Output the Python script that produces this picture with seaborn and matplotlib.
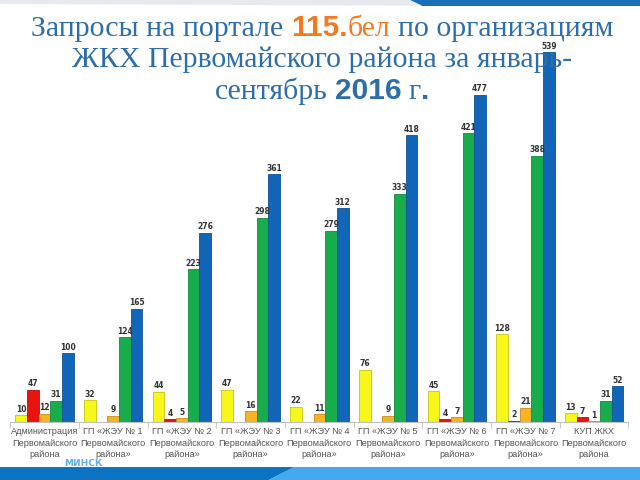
import numpy as np
import pandas as pd
import seaborn as sns
import matplotlib.pyplot as plt
from matplotlib.patches import Polygon
from matplotlib.ticker import FixedLocator
from matplotlib.colors import to_rgb

# organisations (x categories)
orgs = ['Администрация\nПервомайского\nрайона',
        'ГП «ЖЭУ № 1\nПервомайского\nрайона»',
        'ГП «ЖЭУ № 2\nПервомайского\nрайона»',
        'ГП «ЖЭУ № 3\nПервомайского\nрайона»',
        'ГП «ЖЭУ № 4\nПервомайского\nрайона»',
        'ГП «ЖЭУ № 5\nПервомайского\nрайона»',
        'ГП «ЖЭУ № 6\nПервомайского\nрайона»',
        'ГП «ЖЭУ № 7\nПервомайского\nрайона»',
        'КУП ЖКХ\nПервомайского\nрайона']

# five request series per organisation
yellow = [10, 32, 44, 47, 22, 76, 45, 128, 13]
red = [47, 0, 4, 0, 0, 0, 4, 2, 7]
orange = [12, 9, 5, 16, 11, 9, 7, 21, 1]
green = [31, 124, 223, 298, 279, 333, 421, 388, 31]
blue = [100, 165, 276, 361, 312, 418, 477, 539, 52]

series = {'s1': yellow, 's2': red, 's3': orange, 's4': green, 's5': blue}
palette = {'s1': '#f7f71c', 's2': '#e8140f', 's3': '#f8b324',
           's4': '#17ac4c', 's5': '#1166b8'}

rows = []
for key, vals in series.items():
    for org, v in zip(orgs, vals):
        rows.append({'org': org, 'kind': key, 'value': v})
df = pd.DataFrame(rows)

fig = plt.figure(figsize=(6.4, 4.8), dpi=100)
fig.patch.set_facecolor('white')

# decorative bands top and bottom
fig.patches.append(Polygon([[0, 0], [0.42, 0], [0.46, 0.027], [0, 0.027]],
                           closed=True, transform=fig.transFigure,
                           facecolor='#0b73c2', zorder=0))
fig.patches.append(Polygon([[0.42, 0], [1, 0], [1, 0.027], [0.46, 0.027]],
                           closed=True, transform=fig.transFigure,
                           facecolor='#45a9ef', zorder=0))
fig.patches.append(Polygon([[0.64, 1], [1, 1], [1, 0.988], [0.66, 0.988]],
                           closed=True, transform=fig.transFigure,
                           facecolor='#1a6fb8', zorder=0))
fig.patches.append(Polygon([[0, 1], [0.64, 1], [0.66, 0.988], [0, 0.992]],
                           closed=True, transform=fig.transFigure,
                           facecolor='#e6e9ee', zorder=0))

ax = fig.add_axes([0.016, 0.121, 0.966, 0.8])
sns.barplot(data=df, x='org', y='value', hue='kind', palette=palette,
            width=0.85, dodge=True, legend=False, ax=ax, saturation=1)

for p in ax.patches:
    fc = np.array(to_rgb(p.get_facecolor()))
    p.set_edgecolor(tuple(fc * 0.8))
    p.set_linewidth(0.6)

for cont in ax.containers:
    labels = [f'{v:g}' if v > 0 else '' for v in cont.datavalues]
    ax.bar_label(cont, labels=labels, fontsize=5.5, padding=1,
                 color='#333333', fontweight='bold')

ax.set_ylim(0, 560)
ax.set_xlim(-0.5, len(orgs) - 0.5)
ax.set_xlabel('')
ax.set_ylabel('')
ax.set_yticks([])
for s in ['top', 'right', 'left']:
    ax.spines[s].set_visible(False)
ax.spines['bottom'].set_color('#bfbfbf')
ax.set_facecolor('none')
ax.xaxis.set_minor_locator(FixedLocator(np.arange(-0.5, len(orgs), 1)))
ax.tick_params(axis='x', which='major', length=0, pad=4,
               labelsize=6.6, labelcolor='#555555')
ax.tick_params(axis='x', which='minor', length=4, color='#bfbfbf')
for t in ax.get_xticklabels():
    t.set_linespacing(1.3)
    t.set_family('Liberation Sans')

fig.text(0.1, 0.03, 'МИНСК', fontsize=6.5, color='#3a9be0',
         fontweight='bold', alpha=0.8)

# title built from mixed-font pieces
title_blue = '#2e6ea6'
orange_t = '#f47a20'
serif = 'Liberation Serif'
sans = 'Liberation Sans'
fs = 21.5
lines = [
    (0.925, [('Запросы на портале', serif, 'normal', title_blue, 0),
             ('115.', sans, 'bold', orange_t, 1),
             ('бел', serif, 'normal', orange_t, 0),
             ('по организациям', serif, 'normal', title_blue, 1)]),
    (0.860, [('ЖКХ Первомайского района за январь-', serif, 'normal',
              title_blue, 0)]),
    (0.793, [('сентябрь', serif, 'normal', title_blue, 0),
             ('2016', sans, 'bold', title_blue, 1),
             ('г', serif, 'normal', title_blue, 1),
             ('.', sans, 'bold', title_blue, 0)]),
]

renderer = fig.canvas.get_renderer()
probe = fig.text(0, 0, 'a a', fontsize=fs, family=serif)
w1 = probe.get_window_extent(renderer).width
probe.set_text('aa')
space_w = w1 - probe.get_window_extent(renderer).width
probe.remove()

fig_w = fig.bbox.width
for y, segs in lines:
    texts = []
    widths = []
    for txt, fam, wt, col, gap in segs:
        t = fig.text(0, y, txt, fontsize=fs, family=fam, fontweight=wt,
                     color=col, va='baseline', ha='left')
        texts.append(t)
        widths.append(t.get_window_extent(renderer).width)
    total = sum(widths) + space_w * sum(s[4] for s in segs)
    x = (fig_w - total) / 2 + 2
    for t, w, s in zip(texts, widths, segs):
        x += space_w * s[4]
        t.set_x(x / fig_w)
        x += w

fig.savefig('out.png', dpi=100, facecolor='white')
